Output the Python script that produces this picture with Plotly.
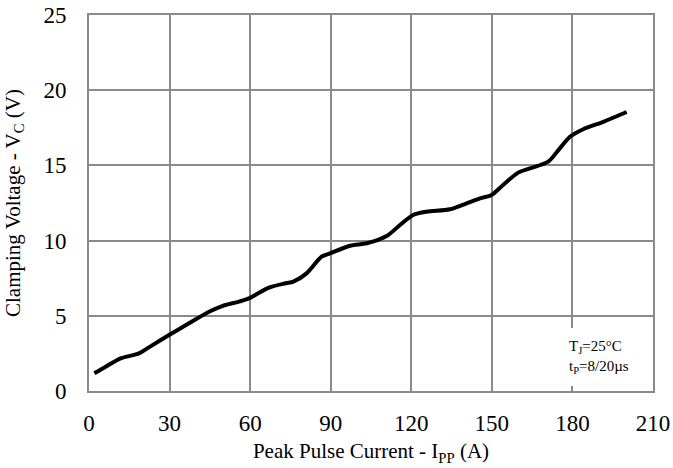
import plotly.graph_objects as go

current = [2, 6.5, 11.8, 18.6, 22.3, 29.8, 37.2, 44.7, 49.6, 55.8, 59.6, 67, 73.2, 76.1,
           81, 86.6, 89.7, 97.2, 103.4, 110.8, 115.8, 120.7, 125.7, 134.4, 140.6, 145.6,
           149.9, 154.2, 159.8, 164.2, 171, 174.7, 179.1, 184, 191.5, 200.2]
voltage = [1.18, 1.65, 2.17, 2.5, 2.9, 3.72, 4.5, 5.27, 5.65, 5.94, 6.16, 6.87, 7.16, 7.27,
           7.82, 8.93, 9.15, 9.66, 9.82, 10.3, 11.04, 11.7, 11.92, 12.08, 12.48, 12.81,
           13.03, 13.7, 14.52, 14.8, 15.25, 16.0, 16.9, 17.4, 17.9, 18.55]
x_ticks = [0, 30, 60, 90, 120, 150, 180, 210]
y_ticks = [0, 5, 10, 15, 20, 25]

FONT = "Liberation Serif, Times New Roman, serif"
GRID = "#8a8a8a"

fig = go.Figure()
fig.add_trace(go.Scatter(x=current, y=voltage, mode="lines",
                         line=dict(color="black", width=4, shape="spline", smoothing=0.8),
                         showlegend=False, hoverinfo="skip"))

axis_common = dict(showgrid=True, gridcolor=GRID, gridwidth=1.5,
                   showline=True, linecolor=GRID, linewidth=2, mirror=True,
                   ticks="inside", ticklen=5, tickcolor=GRID, tickwidth=1.5,
                   zeroline=False, automargin=False, ticklabeloverflow="allow",
                   tickfont=dict(family=FONT, size=23, color="black"))

fig.update_xaxes(range=[0, 210], tickvals=x_ticks, ticktext=[str(v) for v in x_ticks],
                 ticklabelstandoff=10,
                 title=dict(text="Peak Pulse Current - I<sub>PP</sub> (A)",
                            font=dict(family=FONT, size=21, color="black"), standoff=9),
                 **axis_common)
fig.update_yaxes(range=[0, 25], tickvals=y_ticks, ticktext=[str(v) for v in y_ticks],
                 ticklabelstandoff=16,
                 title=dict(text="Clamping Voltage - V<sub>C</sub> (V)",
                            font=dict(family=FONT, size=21, color="black"), standoff=17),
                 **axis_common)

fig.add_shape(type="rect", xref="paper", yref="paper", x0=0.844, x1=0.995, y0=0.013, y1=0.1676,
              fillcolor="white", line=dict(width=0), layer="above")
fig.add_annotation(xref="paper", yref="paper", x=0.848, y=0.0904, xanchor="left", yanchor="middle",
                   align="left", showarrow=False,
                   text="T<sub>J</sub>=25°C<br>t<sub>P</sub>=8/20µs",
                   font=dict(family=FONT, size=15, color="black"))

fig.update_layout(width=673, height=468, margin=dict(l=89, r=20, t=15, b=77),
                  plot_bgcolor="white", paper_bgcolor="white",
                  font=dict(family=FONT, color="black"))

fig.write_html("out.html", config={"displayModeBar": False},
               post_script="document.body.style.margin='0';")
